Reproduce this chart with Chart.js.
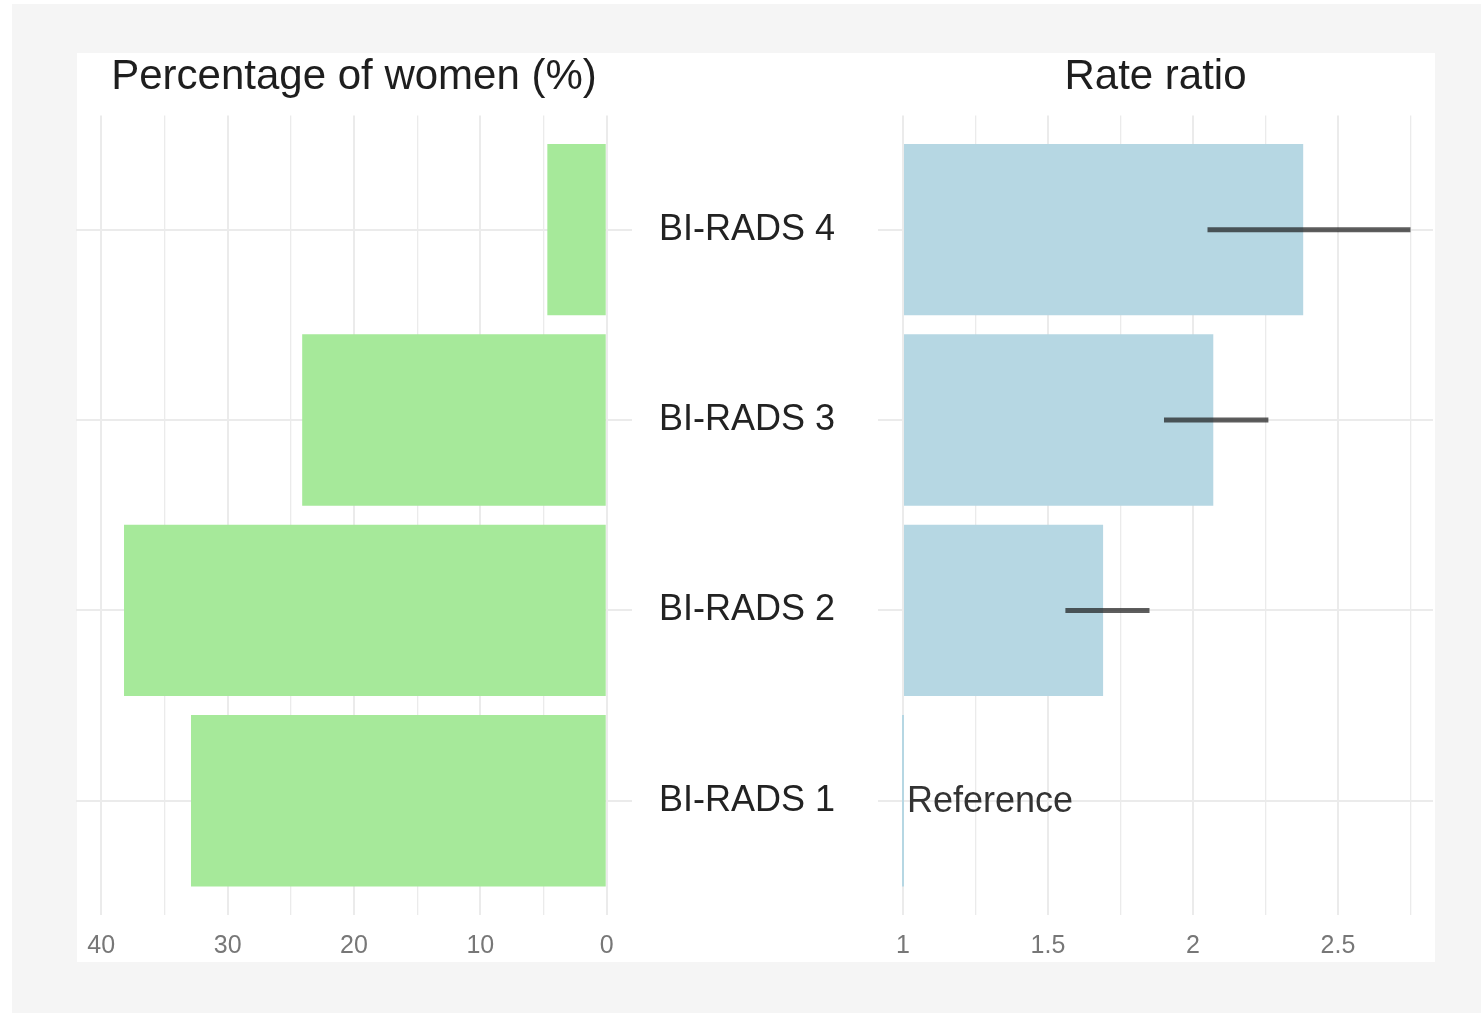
<!DOCTYPE html>
<html><head><meta charset="utf-8">
<script src="https://cdn.jsdelivr.net/npm/chart.js@4.4.1/dist/chart.umd.min.js"></script>
<style>
html,body{margin:0;padding:0;background:#fff;}
#page{position:relative;width:1481px;height:1013px;overflow:hidden;background:#fff;}
#bg{position:absolute;left:12px;top:4px;width:1469px;height:1009px;background:#f5f5f5;}
#panel{position:absolute;left:77px;top:53px;width:1358px;height:909px;background:#fff;}
#leftWrap{position:absolute;left:0;top:0;width:640px;height:1013px;}
#rightWrap{position:absolute;left:640px;top:0;width:841px;height:1013px;}
</style></head>
<body><div id="page"><div id="bg"></div><div id="panel"></div>
<div id="leftWrap"><canvas id="left"></canvas></div>
<div id="rightWrap"><canvas id="right"></canvas></div></div>
<script>
// ---- data ----
const categories = ['BI-RADS 1', 'BI-RADS 2', 'BI-RADS 3', 'BI-RADS 4'];
const categoryPositions = [1, 2, 3, 4];
const percentWomen = [32.9, 38.2, 24.1, 4.7];
const rateRatio = [1.00, 1.69, 2.07, 2.38];
const ciLower = [null, 1.56, 1.90, 2.05];
const ciUpper = [null, 1.85, 2.26, 2.75];
const barNotes = ['Reference', '', '', ''];
const leftMajorTicks = [0, 10, 20, 30, 40];
const leftMinorTicks = [5, 15, 25, 35];
const rightMajorTicks = [1, 1.5, 2, 2.5];
const rightMinorTicks = [1.25, 1.75, 2.25, 2.75];
const leftTitle = 'Percentage of women (%)';
const rightTitle = 'Rate ratio';

const FONT = '"Liberation Sans", Arial, Helvetica, sans-serif';
const GRID = '#ebebeb';

function tickSetter(major, minor) {
  return s => { s.ticks = major.concat(minor).sort((a, b) => a - b).map(v => ({ value: v, major: major.includes(v) })); };
}

new Chart(document.getElementById('left'), {
  type: 'bar',
  data: {
    datasets: [{
      data: categoryPositions.map((p, i) => ({ y: p, x: percentWomen[i] })),
      backgroundColor: '#a6e99a', borderWidth: 0,
      barPercentage: 0.9, categoryPercentage: 1
    }]
  },
  options: {
    indexAxis: 'y', responsive: true, maintainAspectRatio: false, animation: false,
    layout: { padding: { left: 76, right: 8, top: 0, bottom: 51 } },
    plugins: {
      legend: { display: false }, tooltip: { enabled: false },
      title: { display: true, text: leftTitle, fullSize: false, color: '#1e1e1e',
        font: { size: 42, family: FONT, weight: 'normal' }, padding: { top: 52, bottom: 13 } }
    },
    scales: {
      x: {
        type: 'linear', reverse: true, min: -2, max: 42,
        afterBuildTicks: tickSetter(leftMajorTicks, leftMinorTicks),
        ticks: { callback: v => leftMajorTicks.includes(v) ? String(v) : '', color: '#777',
          font: { size: 25, family: FONT }, padding: 16, maxRotation: 0, autoSkip: false },
        grid: { color: GRID, lineWidth: c => (c.tick && c.tick.major) ? 2 : 1.3, drawTicks: false },
        border: { display: false },
        afterFit: s => { s.height = 47; }
      },
      y: {
        type: 'linear', min: 0.4, max: 4.6, offset: false,
        afterBuildTicks: s => { s.ticks = categoryPositions.map(v => ({ value: v })); },
        ticks: { display: false },
        grid: { color: GRID, lineWidth: 2, drawTicks: false, offset: false },
        border: { display: false },
        afterFit: s => { s.width = 0; }
      }
    }
  }
});

const rightExtras = {
  id: 'rightExtras',
  afterDatasetsDraw(chart) {
    const { ctx, scales: { x, y } } = chart;
    ctx.save();
    ctx.strokeStyle = 'rgba(25,25,25,0.7)';
    ctx.lineWidth = 5;
    categoryPositions.forEach((p, i) => {
      if (ciLower[i] == null) return;
      const py = y.getPixelForValue(p);
      ctx.beginPath();
      ctx.moveTo(x.getPixelForValue(ciLower[i]), py);
      ctx.lineTo(x.getPixelForValue(ciUpper[i]), py);
      ctx.stroke();
    });
    ctx.fillStyle = '#333';
    ctx.font = '36px ' + FONT;
    ctx.textBaseline = 'middle';
    ctx.textAlign = 'left';
    categoryPositions.forEach((p, i) => {
      if (barNotes[i]) ctx.fillText(barNotes[i], x.getPixelForValue(rateRatio[i]) + 4, y.getPixelForValue(p) + 1);
    });
    ctx.restore();
  }
};

new Chart(document.getElementById('right'), {
  type: 'bar',
  data: {
    datasets: [{
      data: categoryPositions.map((p, i) => ({ y: p, x: rateRatio[i] })),
      base: 1, minBarLength: 2,
      backgroundColor: '#b6d7e3', borderWidth: 0,
      barPercentage: 0.9, categoryPercentage: 1
    }]
  },
  plugins: [rightExtras],
  options: {
    indexAxis: 'y', responsive: true, maintainAspectRatio: false, animation: false,
    layout: { padding: { left: 0, right: 48, top: 0, bottom: 51 } },
    plugins: {
      legend: { display: false }, tooltip: { enabled: false },
      title: { display: true, text: rightTitle, fullSize: false, color: '#1e1e1e',
        font: { size: 42, family: FONT, weight: 'normal' }, padding: { top: 52, bottom: 13 } }
    },
    scales: {
      x: {
        type: 'linear', min: 0.9138, max: 2.8276,
        afterBuildTicks: tickSetter(rightMajorTicks, rightMinorTicks),
        ticks: { callback: v => rightMajorTicks.includes(v) ? String(v) : '', color: '#777',
          font: { size: 25, family: FONT }, padding: 16, maxRotation: 0, autoSkip: false },
        grid: { color: GRID, lineWidth: c => (c.tick && c.tick.major) ? 2 : 1.3, drawTicks: false },
        border: { display: false },
        afterFit: s => { s.height = 47; }
      },
      y: {
        type: 'linear', position: 'left', min: 0.4, max: 4.6, offset: false,
        afterBuildTicks: s => { s.ticks = categoryPositions.map(v => ({ value: v })); },
        ticks: { callback: v => categories[categoryPositions.indexOf(v)], color: '#222',
          font: { size: 36, family: FONT }, padding: 43 },
        grid: { color: GRID, lineWidth: 2, drawTicks: false, offset: false },
        border: { display: false },
        afterFit: s => { s.width = 238; }
      }
    }
  }
});
</script></body></html>
